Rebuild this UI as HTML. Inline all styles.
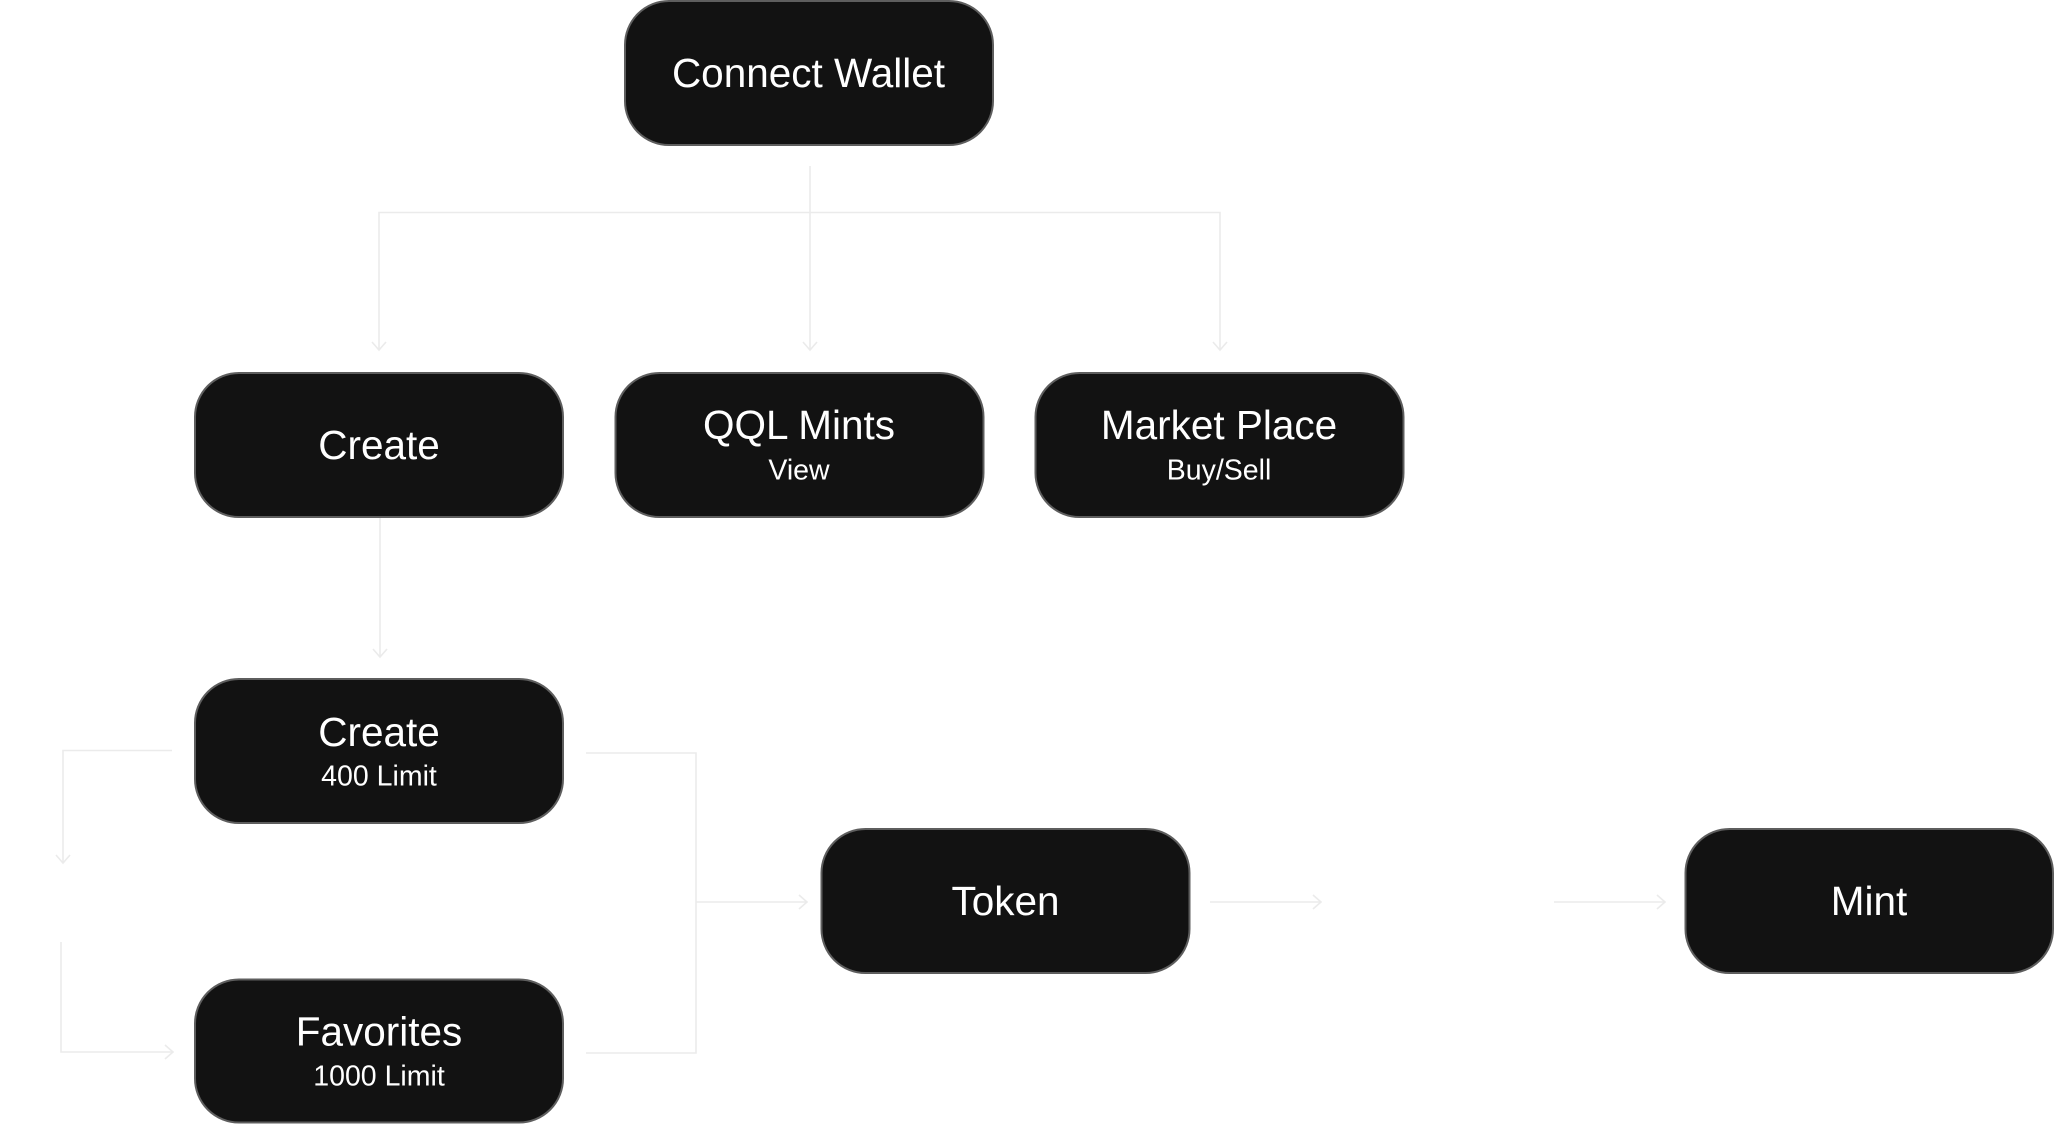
<!DOCTYPE html>
<html>
<head>
<meta charset="utf-8">
<style>
  html, body { margin: 0; padding: 0; background: #ffffff; }
  body { width: 2054px; height: 1124px; overflow: hidden; }
  svg { display: block; }
  .box { fill: #121212; stroke: #5e5e5e; stroke-width: 2; }
  .ln { fill: none; stroke: #ebebeb; stroke-width: 1.6; stroke-linecap: butt; stroke-linejoin: miter; }
  .t { font-family: "Liberation Sans", Arial, sans-serif; fill: #ffffff; font-size: 40.5px; text-anchor: middle; }
  .s { font-family: "Liberation Sans", Arial, sans-serif; fill: #ffffff; font-size: 28.5px; text-anchor: middle; }
</style>
</head>
<body>
<svg width="2054" height="1124" viewBox="0 0 2054 1124" xmlns="http://www.w3.org/2000/svg">
  <!-- from Connect Wallet -->
  <path class="ln" d="M810 166 V350"/>
  <path class="ln" d="M803 342 L810 350 L817 342"/>
  <path class="ln" d="M379 350 V212.5 H1220 V350"/>
  <path class="ln" d="M372 342 L379 350 L386 342"/>
  <path class="ln" d="M1213 342 L1220 350 L1227 342"/>

  <!-- Create -> Create 400 -->
  <path class="ln" d="M380 518 V657"/>
  <path class="ln" d="M373 649 L380 657 L387 649"/>

  <!-- left loop -->
  <path class="ln" d="M172 750.5 H63 V863"/>
  <path class="ln" d="M56 855 L63 863 L70 855"/>
  <path class="ln" d="M61 942 V1052 H173"/>
  <path class="ln" d="M165 1045 L173 1052 L165 1059"/>

  <!-- right bracket -->
  <path class="ln" d="M586 753 H696 V1053 H586"/>
  <path class="ln" d="M696 902 H807"/>
  <path class="ln" d="M799 895 L807 902 L799 909"/>

  <!-- Token -> Mint arrows -->
  <path class="ln" d="M1210 902 H1321"/>
  <path class="ln" d="M1313 895 L1321 902 L1313 909"/>
  <path class="ln" d="M1554 902 H1665"/>
  <path class="ln" d="M1657 895 L1665 902 L1657 909"/>

  <!-- boxes -->
  <rect class="box" x="625" y="1" width="368" height="144" rx="44" ry="44"/>
  <text class="t" x="808.5" y="87">Connect Wallet</text>

  <rect class="box" x="195" y="373" width="368" height="144" rx="44" ry="44"/>
  <text class="t" x="379" y="459">Create</text>

  <rect class="box" x="615.5" y="373" width="368" height="144" rx="44" ry="44"/>
  <text class="t" x="799" y="439">QQL Mints</text>
  <text class="s" x="799" y="479.5">View</text>

  <rect class="box" x="1035.5" y="373" width="368" height="144" rx="44" ry="44"/>
  <text class="t" x="1219" y="439">Market Place</text>
  <text class="s" x="1219" y="479.5">Buy/Sell</text>

  <rect class="box" x="195" y="679" width="368" height="144" rx="44" ry="44"/>
  <text class="t" x="379" y="746">Create</text>
  <text class="s" x="379" y="785.5">400 Limit</text>

  <rect class="box" x="195" y="979.5" width="368" height="143" rx="44" ry="44"/>
  <text class="t" x="379" y="1045.5">Favorites</text>
  <text class="s" x="379" y="1085.5">1000 Limit</text>

  <rect class="box" x="821.5" y="829" width="368" height="144" rx="44" ry="44"/>
  <text class="t" x="1005.5" y="915">Token</text>

  <rect class="box" x="1685.5" y="829" width="367.5" height="144" rx="44" ry="44"/>
  <text class="t" x="1869" y="915">Mint</text>
</svg>
</body>
</html>
